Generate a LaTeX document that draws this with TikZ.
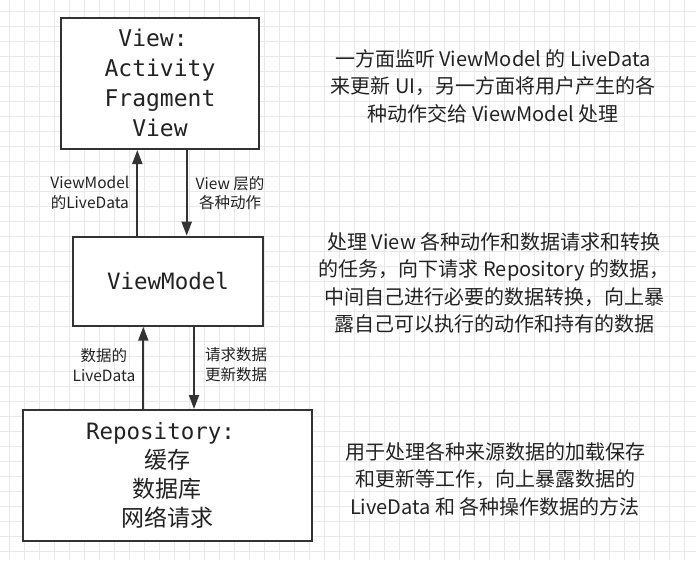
\documentclass[tikz,border=0pt]{standalone}
\usepackage{fontspec}
\setmainfont{Noto Sans CJK SC}
\setmonofont{DejaVu Sans Mono}
\usetikzlibrary{
  arrows.meta,
  positioning,
}
\tikzset{
  >={Triangle[width=10pt,length=14pt]},
}
\definecolor{mvvm_line}{RGB}{51,51,51}
\definecolor{mvvm_grid}{RGB}{232,232,232}
\definecolor{mvvm_text}{RGB}{34,34,34}

\begin{document}
\begin{tikzpicture}[x=1pt, y=-1pt,
    layer/.style={draw=mvvm_line, line width=2pt, fill=white, align=center,
      inner sep=0pt, text=mvvm_text},
    flow/.style={->, draw=mvvm_line, line width=2pt},
    flowlabel/.style={align=center, inner sep=0pt, text=mvvm_text,
      font=\fontsize{15.5}{19.5}\selectfont},
    note/.style={align=center, inner sep=0pt, text=mvvm_text,
      font=\fontsize{20}{27.5}\selectfont},
  ]
    \useasboundingbox (0,0) rectangle (696,560);

    % background grid
    \foreach \i in {0,...,45} {
      \draw[mvvm_grid, line width=1pt] (9.5+15*\i,0) -- +(0,560);
    }
    \foreach \i in {0,...,36} {
      \draw[mvvm_grid, line width=1pt] (0,11+15*\i) -- +(696,0);
    }

    % the three layers
    \node[layer, minimum width=198.5pt, minimum height=131.5pt,
      font=\ttfamily\fontsize{23}{30}\selectfont] (view) at (160,83.3)
      {View:\phantom{x}\\Activity\\Fragment\\View};
    \node[layer, minimum width=190pt, minimum height=89pt,
      font=\ttfamily\fontsize{22.5}{29}\selectfont] (vm) at (168,281.2)
      {ViewModel};
    \node[layer, minimum width=289pt, minimum height=131pt,
      font=\fontsize{23}{29}\selectfont] (repo) at (167.3,475.5)
      {{\ttfamily\fontsize{22.5}{29}\selectfont Repository:\phantom{x}}\\缓存\\数据库\\网络请求};

    % arrows between the layers
    \draw[flow] (137.3,0 |- vm.north) -- node[flowlabel, left=7pt] (vm_live)
      {ViewModel\\的LiveData} (137.3,0 |- view.south);
    \draw[flow] (186.7,0 |- view.south) -- node[flowlabel, right=8pt] (view_act)
      {View 层的\\各种动作} (186.7,0 |- vm.north);
    \draw[flow] (143.3,0 |- repo.north) -- node[flowlabel, left=7pt, yshift=3pt] (repo_live)
      {数据的\\LiveData} (143.3,0 |- vm.south);
    \draw[flow] (194,0 |- vm.south) -- node[flowlabel, right=10pt, yshift=3pt] (vm_req)
      {请求数据\\更新数据} (194,0 |- repo.north);

    % descriptions on the right
    \node[note] (view_note) at (493,86)
      {一方面监听 ViewModel 的 LiveData\\来更新 UI，另一方面将用户产生的各\\种动作交给 ViewModel 处理};
    \node[note] (vm_note) at (494,283)
      {处理 View 各种动作和数据请求和转换\\的任务，向下请求 Repository 的数据，\\中间自己进行必要的数据转换，向上暴\\露自己可以执行的动作和持有的数据};
    \node[note] (repo_note) at (495,479)
      {用于处理各种来源数据的加载保存\\和更新等工作，向上暴露数据的\\LiveData 和 各种操作数据的方法};
\end{tikzpicture}
\end{document}
